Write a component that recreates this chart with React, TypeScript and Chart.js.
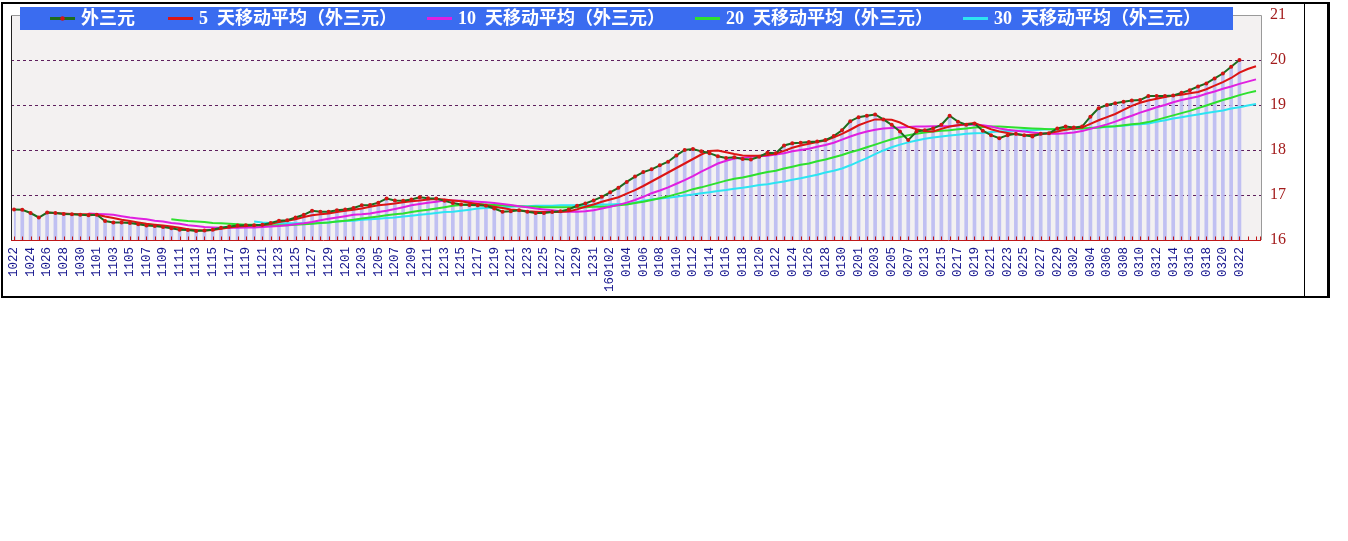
import React, { useEffect, useRef } from 'react';
import { Chart, registerables } from 'chart.js';
Chart.register(...registerables);

const dates: string[] = [
  '1022','1023','1024','1025','1026','1027','1028','1029','1030','1031',
  '1101','1102','1103','1104','1105','1106','1107','1108','1109','1110',
  '1111','1112','1113','1114','1115','1116','1117','1118','1119','1120',
  '1121','1122','1123','1124','1125','1126','1127','1128','1129','1130',
  '1201','1202','1203','1204','1205','1206','1207','1208','1209','1210',
  '1211','1212','1213','1214','1215','1216','1217','1218','1219','1220',
  '1221','1222','1223','1224','1225','1226','1227','1228','1229','1230',
  '1231','0101','160102','0103','0104','0105','0106','0107','0108','0109',
  '0110','0111','0112','0113','0114','0115','0116','0117','0118','0119',
  '0120','0121','0122','0123','0124','0125','0126','0127','0128','0129',
  '0130','0131','0201','0202','0203','0204','0205','0206','0207','0212',
  '0213','0214','0215','0216','0217','0218','0219','0220','0221','0222',
  '0223','0224','0225','0226','0227','0228','0229','0301','0302','0303',
  '0304','0305','0306','0307','0308','0309','0310','0311','0312','0313',
  '0314','0315','0316','0317','0318','0319','0320','0321','0322','0323',
  '0324'
];

// 外三元 daily values (ends at 0322)
const price: number[] = [
  16.68,16.67,16.60,16.50,16.61,16.60,16.58,16.57,16.56,16.55,
  16.56,16.42,16.39,16.39,16.38,16.35,16.32,16.31,16.29,16.26,
  16.23,16.22,16.20,16.21,16.23,16.27,16.30,16.32,16.33,16.33,
  16.34,16.38,16.43,16.44,16.50,16.56,16.65,16.63,16.63,16.66,
  16.68,16.71,16.77,16.78,16.83,16.92,16.88,16.87,16.90,16.95,
  16.93,16.92,16.87,16.82,16.79,16.78,16.77,16.76,16.70,16.63,
  16.64,16.66,16.63,16.60,16.60,16.62,16.64,16.68,16.76,16.81,
  16.88,16.96,17.06,17.16,17.29,17.41,17.51,17.57,17.66,17.74,
  17.88,18.00,18.02,17.97,17.93,17.86,17.82,17.84,17.80,17.79,
  17.85,17.94,17.93,18.10,18.15,18.16,18.18,18.19,18.22,18.31,
  18.44,18.64,18.73,18.76,18.79,18.68,18.56,18.41,18.22,18.41,
  18.44,18.48,18.56,18.76,18.63,18.56,18.59,18.43,18.33,18.26,
  18.33,18.36,18.33,18.30,18.36,18.37,18.48,18.52,18.50,18.52,
  18.74,18.93,19.00,19.04,19.07,19.10,19.11,19.20,19.20,19.20,
  19.21,19.27,19.33,19.41,19.48,19.59,19.70,19.85,20.00
];

const ma5: (number | null)[] = [
  null,null,null,null,16.61,16.60,16.59,16.58,16.57,16.57,
  16.56,16.52,16.49,16.45,16.42,16.39,16.36,16.34,16.32,16.30,
  16.27,16.24,16.22,16.21,16.22,16.25,16.28,16.30,16.31,16.32,
  16.33,16.36,16.40,16.43,16.46,16.51,16.55,16.57,16.59,16.62,
  16.65,16.67,16.70,16.74,16.77,16.79,16.81,16.84,16.86,16.88,
  16.90,16.91,16.90,16.88,16.86,16.83,16.80,16.77,16.74,16.71,
  16.68,16.66,16.64,16.63,16.62,16.62,16.62,16.64,16.68,16.74,
  16.79,16.85,16.90,16.95,17.03,17.11,17.20,17.30,17.40,17.50,
  17.60,17.70,17.80,17.90,17.98,17.99,17.95,17.91,17.88,17.87,
  17.87,17.89,17.92,17.98,18.05,18.10,18.14,18.18,18.21,18.28,
  18.36,18.45,18.55,18.62,18.68,18.68,18.67,18.61,18.52,18.46,
  18.42,18.41,18.47,18.52,18.55,18.58,18.60,18.53,18.46,18.41,
  18.38,18.35,18.33,18.34,18.35,18.38,18.41,18.45,18.48,18.50,
  18.58,18.66,18.73,18.80,18.89,18.98,19.05,19.10,19.14,19.18,
  19.21,19.23,19.26,19.29,19.35,19.43,19.51,19.60,19.72,19.80,
  19.86
];

const ma10: (number | null)[] = [
  null,null,null,null,null,null,null,null,null,16.59,
  16.58,16.57,16.56,16.53,16.50,16.48,16.46,16.43,16.41,16.38,
  16.36,16.33,16.31,16.29,16.28,16.27,16.27,16.27,16.28,16.28,
  16.29,16.30,16.31,16.33,16.35,16.37,16.40,16.44,16.47,16.50,
  16.53,16.56,16.57,16.59,16.62,16.65,16.69,16.73,16.77,16.80,
  16.83,16.85,16.88,16.88,16.87,16.86,16.85,16.84,16.82,16.80,
  16.78,16.75,16.73,16.70,16.68,16.66,16.64,16.63,16.63,16.64,
  16.66,16.70,16.74,16.78,16.83,16.89,16.96,17.04,17.10,17.17,
  17.25,17.33,17.42,17.52,17.61,17.70,17.76,17.81,17.83,17.85,
  17.86,17.87,17.90,17.93,17.97,18.00,18.03,18.07,18.11,18.16,
  18.23,18.30,18.36,18.41,18.45,18.48,18.49,18.50,18.51,18.52,
  18.52,18.53,18.53,18.53,18.55,18.56,18.56,18.55,18.52,18.48,
  18.45,18.43,18.41,18.39,18.37,18.36,18.36,18.37,18.39,18.42,
  18.47,18.52,18.57,18.63,18.70,18.76,18.83,18.89,18.95,19.00,
  19.06,19.11,19.15,19.19,19.25,19.30,19.36,19.41,19.47,19.52,
  19.57
];

const ma20: (number | null)[] = [
  null,null,null,null,null,null,null,null,null,null,
  null,null,null,null,null,null,null,null,null,16.46,
  16.44,16.42,16.41,16.40,16.38,16.37,16.36,16.35,16.34,16.34,
  16.33,16.33,16.33,16.33,16.34,16.35,16.36,16.38,16.39,16.41,
  16.43,16.45,16.48,16.50,16.52,16.55,16.57,16.59,16.62,16.65,
  16.67,16.70,16.73,16.76,16.78,16.79,16.80,16.79,16.78,16.77,
  16.76,16.75,16.74,16.74,16.73,16.73,16.73,16.73,16.73,16.73,
  16.74,16.74,16.75,16.77,16.79,16.82,16.85,16.89,16.93,16.97,
  17.02,17.07,17.13,17.17,17.22,17.27,17.32,17.36,17.39,17.43,
  17.47,17.51,17.54,17.59,17.63,17.67,17.70,17.75,17.79,17.84,
  17.89,17.95,18.00,18.06,18.12,18.18,18.24,18.29,18.33,18.36,
  18.39,18.41,18.43,18.44,18.46,18.48,18.50,18.51,18.52,18.52,
  18.51,18.50,18.49,18.48,18.47,18.46,18.46,18.46,18.47,18.48,
  18.49,18.50,18.52,18.53,18.55,18.57,18.59,18.62,18.67,18.72,
  18.77,18.82,18.87,18.93,18.99,19.05,19.11,19.16,19.22,19.27,
  19.31
];

const ma30: (number | null)[] = [
  null,null,null,null,null,null,null,null,null,null,
  null,null,null,null,null,null,null,null,null,null,
  null,null,null,null,null,null,null,null,null,16.41,
  16.39,16.38,16.37,16.37,16.37,16.37,16.37,16.38,16.39,16.41,
  16.42,16.43,16.45,16.46,16.47,16.49,16.50,16.52,16.54,16.56,
  16.58,16.60,16.62,16.63,16.65,16.67,16.70,16.71,16.72,16.73,
  16.74,16.75,16.75,16.76,16.76,16.76,16.77,16.77,16.77,16.78,
  16.78,16.79,16.79,16.80,16.80,16.83,16.87,16.90,16.92,16.94,
  16.96,16.99,17.01,17.04,17.06,17.09,17.11,17.14,17.16,17.19,
  17.22,17.24,17.27,17.30,17.34,17.37,17.41,17.45,17.50,17.54,
  17.59,17.66,17.74,17.82,17.91,17.99,18.06,18.12,18.17,18.21,
  18.25,18.28,18.30,18.32,18.34,18.36,18.37,18.38,18.40,18.41,
  18.42,18.43,18.44,18.44,18.45,18.46,18.46,18.47,18.47,18.48,
  18.49,18.50,18.51,18.53,18.54,18.56,18.57,18.59,18.63,18.66,
  18.70,18.73,18.76,18.79,18.82,18.85,18.88,18.92,18.95,18.99,
  19.02
];

const seriesLabels = [
  '外三元',
  '5 天移动平均（外三元）',
  '10 天移动平均（外三元）',
  '20 天移动平均（外三元）',
  '30 天移动平均（外三元）'
];
const yMin = 16;
const yMax = 21;
const lastLabelIndex = price.length - 1;

const PLOT_L = 11;
const PLOT_R = 1261;
const legendItemX = [50, 168, 427, 695, 963];

const decorPlugin = {
  id: 'decor',
  beforeDraw(chart: any) {
    const { ctx, chartArea: a } = chart;
    ctx.save();
    ctx.fillStyle = '#ffffff';
    ctx.fillRect(0, 0, chart.width, chart.height);
    ctx.fillStyle = '#f3f1f1';
    ctx.fillRect(PLOT_L, a.top, PLOT_R - PLOT_L, a.bottom - a.top);
    const ys = chart.scales.y;
    ctx.strokeStyle = '#5e1f5e';
    ctx.lineWidth = 1;
    ctx.setLineDash([3, 3]);
    for (let v = yMin + 1; v < yMax; v++) {
      const py = Math.round(ys.getPixelForValue(v)) + 0.5;
      ctx.beginPath();
      ctx.moveTo(PLOT_L, py);
      ctx.lineTo(PLOT_R, py);
      ctx.stroke();
    }
    ctx.restore();
  },
  afterDatasetsDraw(chart: any) {
    const { ctx, chartArea: a } = chart;
    const xs = chart.scales.x;
    ctx.save();
    ctx.strokeStyle = '#c01818';
    ctx.lineWidth = 1;
    const by = Math.round(a.bottom) + 0.5;
    ctx.beginPath();
    ctx.moveTo(PLOT_L, by);
    ctx.lineTo(PLOT_R, by);
    for (let i = 0; i < dates.length; i++) {
      const px = Math.round(xs.getPixelForValue(i)) + 0.5;
      ctx.moveTo(px, by);
      ctx.lineTo(px, by - 4);
    }
    ctx.moveTo(PLOT_R - 0.5, by);
    ctx.lineTo(PLOT_R - 0.5, by - 4);
    ctx.stroke();
    ctx.strokeStyle = '#222';
    ctx.beginPath();
    ctx.moveTo(PLOT_L + 0.5, a.top);
    ctx.lineTo(PLOT_L + 0.5, a.bottom);
    ctx.stroke();
    ctx.strokeStyle = '#9a9a9a';
    ctx.beginPath();
    ctx.moveTo(PLOT_L, Math.round(a.top) + 0.5);
    ctx.lineTo(PLOT_R + 0.5, Math.round(a.top) + 0.5);
    ctx.lineTo(PLOT_R + 0.5, a.bottom);
    ctx.stroke();
    ctx.restore();
  },
  afterDraw(chart: any) {
    const { ctx } = chart;
    ctx.save();
    ctx.strokeStyle = '#000';
    ctx.lineWidth = 2;
    ctx.strokeRect(2, 3, 1327, 294);
    ctx.lineWidth = 1;
    ctx.beginPath();
    ctx.moveTo(1304.5, 3);
    ctx.lineTo(1304.5, 297);
    ctx.stroke();
    ctx.fillStyle = '#000';
    ctx.fillRect(1327, 3, 3, 295);
    ctx.fillStyle = '#3a6cf0';
    ctx.fillRect(20, 7, 1213, 23);
    const lines = chart.data.datasets.filter((d: any) => d.type !== 'bar');
    lines.forEach((ds: any, k: number) => {
      const x = legendItemX[k];
      const y = 18.5;
      ctx.strokeStyle = ds.borderColor;
      ctx.lineWidth = 3;
      ctx.beginPath();
      ctx.moveTo(x, y);
      ctx.lineTo(x + 25, y);
      ctx.stroke();
      if (k === 0) {
        ctx.fillStyle = ds.pointBackgroundColor;
        ctx.beginPath();
        ctx.arc(x + 12.5, y, 2.2, 0, Math.PI * 2);
        ctx.fill();
      }
      ctx.fillStyle = '#ffffff';
      ctx.font = 'bold 18px "Liberation Serif", "Noto Sans CJK SC"';
      ctx.textBaseline = 'middle';
      ctx.textAlign = 'left';
      const label: string = ds.label;
      const sp = label.indexOf(' ');
      if (sp > 0) {
        const head = label.slice(0, sp);
        ctx.fillText(head, x + 31, y + 1);
        const w = ctx.measureText(head).width;
        ctx.fillText(label.slice(sp + 1), x + 31 + w + 9, y + 1);
      } else {
        ctx.fillText(label, x + 31, y + 1);
      }
    });
    ctx.restore();
  }
};

export default function App() {
  const ref = useRef<HTMLCanvasElement | null>(null);
  useEffect(() => {
    if (!ref.current) return;
    const chart = new Chart(ref.current, {
      type: 'line',
      data: {
        labels: dates,
        datasets: [
          {
            label: seriesLabels[0],
            data: price,
            borderColor: '#1d6b1d',
            borderWidth: 2,
            pointRadius: 2,
            pointBackgroundColor: '#d41414',
            pointBorderWidth: 0,
            tension: 0
          },
          { label: seriesLabels[1], data: ma5, borderColor: '#dc1414', borderWidth: 2, pointRadius: 0, tension: 0 },
          { label: seriesLabels[2], data: ma10, borderColor: '#e020e0', borderWidth: 2, pointRadius: 0, tension: 0 },
          { label: seriesLabels[3], data: ma20, borderColor: '#2ee02e', borderWidth: 2, pointRadius: 0, tension: 0 },
          { label: seriesLabels[4], data: ma30, borderColor: '#2ee4f2', borderWidth: 2, pointRadius: 0, tension: 0 },
          {
            type: 'bar',
            label: '',
            data: price.map((v) => [yMin, v]),
            backgroundColor: 'rgba(186,186,242,0.9)',
            barThickness: 3,
            borderWidth: 0
          } as any
        ]
      },
      options: {
        animation: false,
        responsive: false,
        maintainAspectRatio: false,
        layout: { padding: { left: 14, right: 52, top: 15, bottom: 243 } },
        plugins: { legend: { display: false }, tooltip: { enabled: false } },
        scales: {
          x: {
            type: 'category',
            offset: false,
            grid: { display: false, drawTicks: false },
            border: { display: false },
            afterFit: (s: any) => { s.height = 58; },
            ticks: {
              autoSkip: false,
              minRotation: 90,
              maxRotation: 90,
              padding: 7,
              color: '#16168e',
              font: { family: 'Liberation Mono', size: 12.5 },
              callback: (_v: any, i: number) => (i % 2 === 0 && i <= lastLabelIndex ? dates[i] : '')
            }
          },
          y: {
            position: 'right',
            min: yMin,
            max: yMax,
            grid: { display: false, drawTicks: true, tickLength: 14 },
            border: { display: false },
            afterFit: (s: any) => { s.width = 40; },
            ticks: {
              stepSize: 1,
              padding: 0,
              color: '#a31c1c',
              font: { family: 'Liberation Serif', size: 16 }
            }
          }
        }
      },
      plugins: [decorPlugin]
    });
    return () => chart.destroy();
  }, []);
  return (
    <div style={{ position: 'absolute', left: 0, top: 0, width: 1348, height: 541, background: '#fff' }}>
      <canvas ref={ref} width={1348} height={541} style={{ width: 1348, height: 541, display: 'block' }} />
    </div>
  );
}
